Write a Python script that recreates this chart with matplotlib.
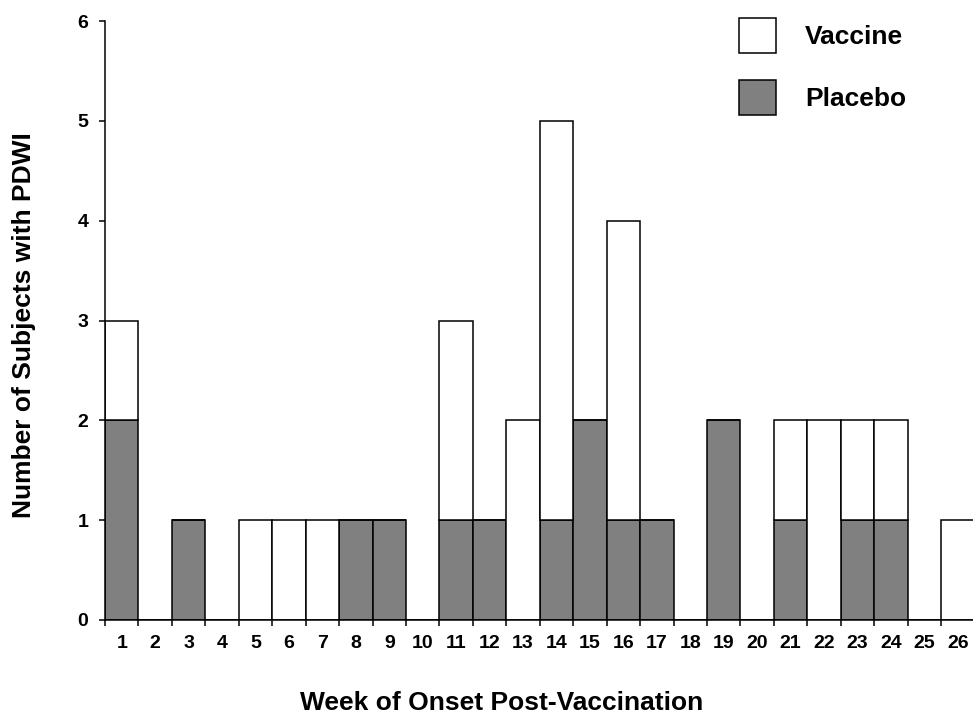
import numpy as np
import matplotlib
matplotlib.use("Agg")
import matplotlib.pyplot as plt
from matplotlib.patches import Patch

plt.rcParams["font.family"] = ["Liberation Sans", "DejaVu Sans"]
plt.rcParams["font.weight"] = "bold"

weeks = np.arange(1, 27)
placebo = [2, 0, 1, 0, 0, 0, 0, 1, 1, 0, 1, 1, 0, 1, 2, 1, 1, 0, 2, 0, 1, 0, 1, 1, 0, 0]
vaccine = [1, 0, 0, 0, 1, 1, 1, 0, 0, 0, 2, 0, 2, 4, 0, 3, 0, 0, 0, 0, 1, 2, 1, 1, 0, 1]

fig = plt.figure(figsize=(9.73, 7.16), dpi=100)
ax = fig.add_axes([105 / 973, 96 / 716, 869.6 / 973, 599 / 716])

ax.bar(weeks, placebo, width=1, color="#808080", edgecolor="black", linewidth=1.1)
ax.bar(weeks, vaccine, width=1, bottom=placebo, color="white", edgecolor="black", linewidth=1.1)

ax.set_xlim(0.5, 26.5)
ax.set_ylim(0, 6)
ax.spines["top"].set_visible(False)
ax.spines["right"].set_visible(False)
ax.spines["left"].set_linewidth(1.1)
ax.spines["bottom"].set_linewidth(1.1)

ax.set_yticks(range(0, 7))
ax.tick_params(axis="y", length=4, width=1.1, pad=8, labelsize=14)

ax.set_xticks(np.arange(0.5, 27, 1))
ax.set_xticklabels([])
ax.set_xticks(weeks, minor=True)
ax.set_xticklabels([str(w) for w in weeks], minor=True)
ax.tick_params(axis="x", which="major", length=4, width=1.1)
ax.tick_params(axis="x", which="minor", length=0, pad=11, labelsize=14)

ax.set_ylabel("Number of Subjects with PDWI", fontsize=19, fontweight="bold")
ax.yaxis.set_label_coords(-0.079, 0.4925)
fig.text(502 / 973, 1 - 703 / 716, "Week of Onset Post-Vaccination",
         fontsize=19, fontweight="bold", ha="center", va="center")

handles = [Patch(facecolor="white", edgecolor="black", linewidth=1.1, label="Vaccine"),
           Patch(facecolor="#808080", edgecolor="black", linewidth=1.1, label="Placebo")]
fig.legend(handles=handles, loc="upper left", bbox_to_anchor=(739 / 973, 1 - 18 / 716),
           frameon=False, borderpad=0, borderaxespad=0,
           handlelength=1.40, handleheight=1.68, handletextpad=1.1, labelspacing=1.0,
           prop={"weight": "bold", "size": 19})

fig.savefig("out.png", dpi=100)
